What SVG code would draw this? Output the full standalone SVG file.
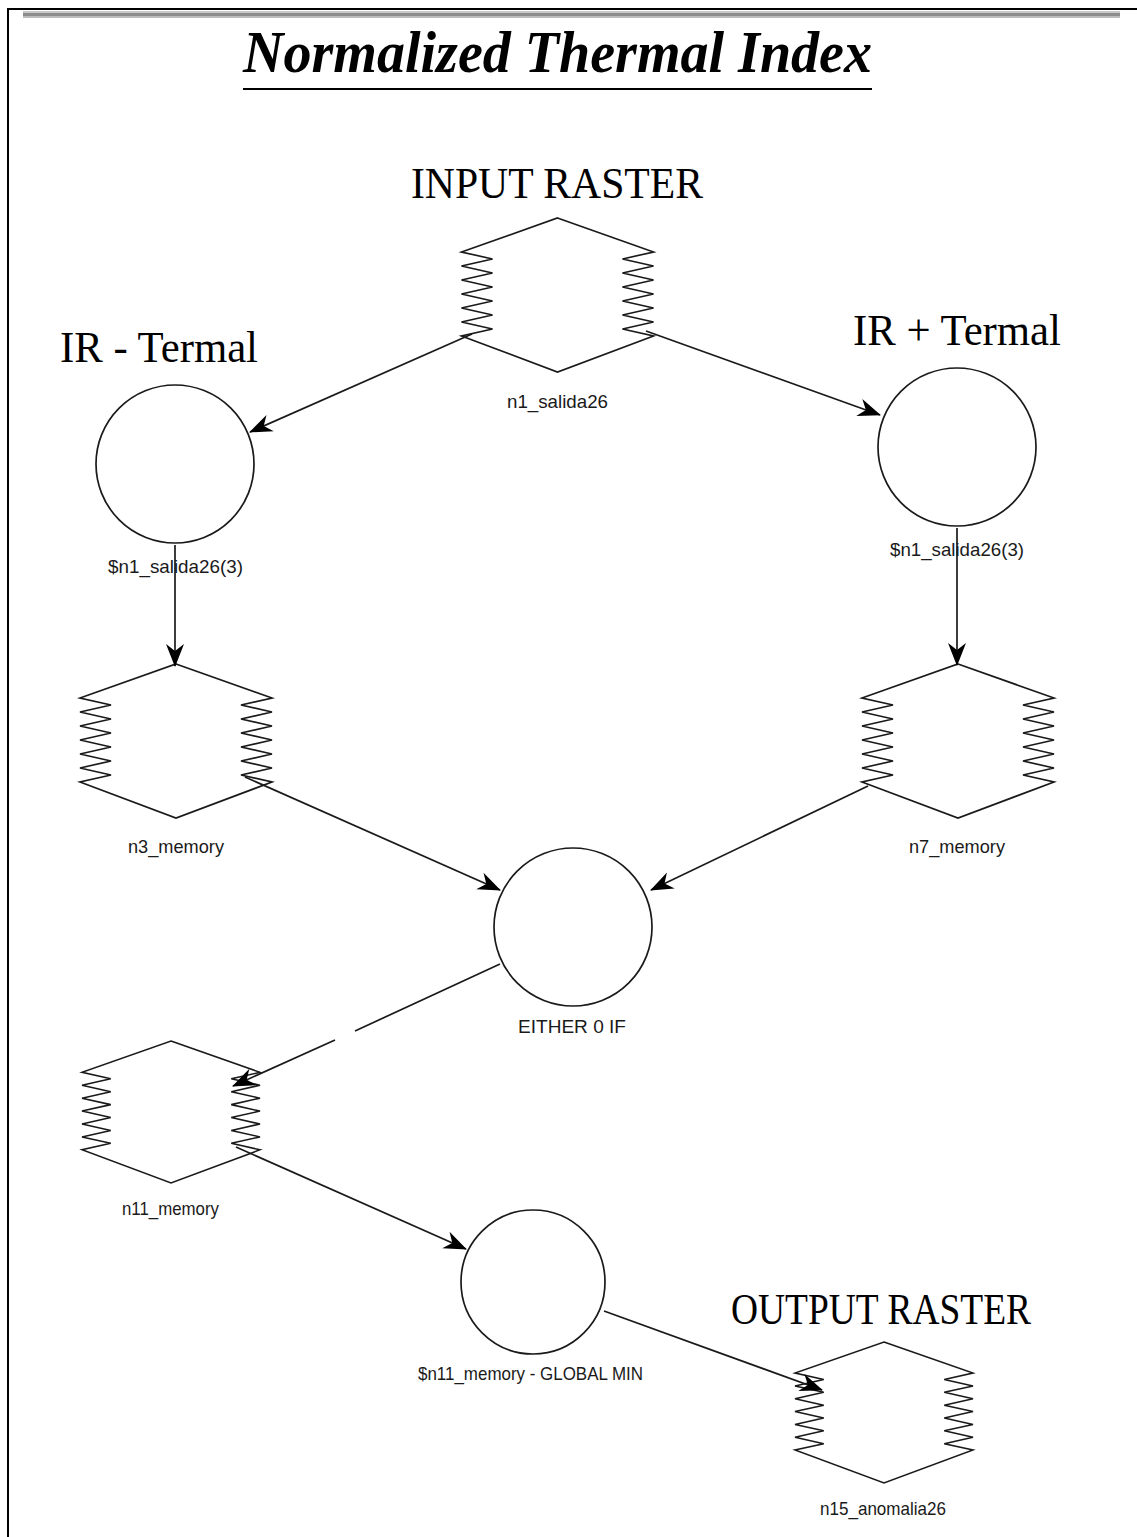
<svg xmlns="http://www.w3.org/2000/svg" xmlns:xlink="http://www.w3.org/1999/xlink" width="1137" height="1537" viewBox="0 0 1137 1537">
  <style>
    .frame { fill: #000; }
    .shape { fill: none; stroke: #1a1a1a; stroke-width: 1.7; vector-effect: non-scaling-stroke; }
    .edge { fill: none; stroke: #1a1a1a; stroke-width: 1.7; marker-end: url(#arrow); }
    .title { font-family: "Liberation Serif", "Times New Roman", serif; font-weight: bold; font-style: italic; font-size: 60px; fill: #000; }
    .head { font-family: "Liberation Serif", "Times New Roman", serif; font-size: 45px; fill: #000; }
    .lbl { font-family: "Liberation Sans", Arial, sans-serif; font-size: 19px; fill: #1a1a1a; }
  </style>
  <defs>
    <!-- raster/memory node: hexagon with spring-like zigzag sides -->
    <path id="hex" d="M0,-77 L96,-43 L65,-36 L96,-29 L65,-22 L96,-15 L65,-8 L96,-1 L65,6 L96,13 L65,20 L96,27 L65,34 L96,41 L0,77 L-96,41 L-65,34 L-96,27 L-65,20 L-96,13 L-65,6 L-96,-1 L-65,-8 L-96,-15 L-65,-22 L-96,-29 L-65,-36 L-96,-43 Z"/>
    <!-- notched solid arrowhead, tip on the path end -->
    <marker id="arrow" markerUnits="userSpaceOnUse" markerWidth="26" markerHeight="22" viewBox="-24 -11 26 22" refX="0" refY="0" orient="auto">
      <path d="M1,0 L-22,-9 L-15,0 L-22,9 Z" fill="#000"/>
    </marker>
  </defs>

  <rect width="1137" height="1537" fill="#fff"/>

  <!-- page frame -->
  <g id="frame">
    <rect class="frame" x="7" y="8" width="1130" height="2"/>
    <rect class="frame" x="7" y="8" width="2" height="1529"/>
    <rect x="23" y="11" width="1097" height="2" fill="#c8c8c8"/>
    <rect x="23" y="13" width="1097" height="3" fill="#8c8c8c"/>
    <rect x="23" y="16" width="1097" height="2" fill="#bcbcbc"/>
  </g>

  <!-- title -->
  <g id="title">
    <text class="title" x="243" y="72" textLength="629" lengthAdjust="spacingAndGlyphs">Normalized Thermal Index</text>
    <rect x="243" y="88" width="629" height="2" fill="#000"/>
  </g>

  <!-- section headings -->
  <g id="headings">
    <text class="head" x="411" y="198" textLength="292" lengthAdjust="spacingAndGlyphs">INPUT RASTER</text>
    <text class="head" x="60" y="362" textLength="198" lengthAdjust="spacingAndGlyphs">IR - Termal</text>
    <text class="head" x="853" y="345" textLength="208" lengthAdjust="spacingAndGlyphs">IR + Termal</text>
    <text class="head" x="731" y="1324" textLength="300" lengthAdjust="spacingAndGlyphs">OUTPUT RASTER</text>
  </g>

  <!-- nodes -->
  <g id="n1_salida26">
    <use xlink:href="#hex" class="shape" transform="translate(557.5,295)"/>
    <text class="lbl" x="507" y="408" textLength="101" lengthAdjust="spacingAndGlyphs">n1_salida26</text>
  </g>
  <g id="n2_ir_minus">
    <circle class="shape" cx="175" cy="464" r="79"/>
    <text class="lbl" x="108" y="573" textLength="135" lengthAdjust="spacingAndGlyphs">$n1_salida26(3)</text>
  </g>
  <g id="n6_ir_plus">
    <circle class="shape" cx="957" cy="447" r="79"/>
    <text class="lbl" x="890" y="556" textLength="134" lengthAdjust="spacingAndGlyphs">$n1_salida26(3)</text>
  </g>
  <g id="n3_memory">
    <use xlink:href="#hex" class="shape" transform="translate(176,741)"/>
    <text class="lbl" x="128" y="853" textLength="96" lengthAdjust="spacingAndGlyphs">n3_memory</text>
  </g>
  <g id="n7_memory">
    <use xlink:href="#hex" class="shape" transform="translate(958,741)"/>
    <text class="lbl" x="909" y="853" textLength="96" lengthAdjust="spacingAndGlyphs">n7_memory</text>
  </g>
  <g id="n10_either">
    <circle class="shape" cx="573" cy="927" r="79"/>
    <text class="lbl" x="518" y="1033" textLength="108" lengthAdjust="spacingAndGlyphs">EITHER 0 IF</text>
  </g>
  <g id="n11_memory">
    <use xlink:href="#hex" class="shape" transform="translate(171,1112) scale(0.927,0.922)"/>
    <text class="lbl" x="122" y="1215" textLength="97" lengthAdjust="spacingAndGlyphs">n11_memory</text>
  </g>
  <g id="n14_global_min">
    <circle class="shape" cx="533" cy="1282" r="72"/>
    <text class="lbl" x="418" y="1380" textLength="225" lengthAdjust="spacingAndGlyphs">$n11_memory - GLOBAL MIN</text>
  </g>
  <g id="n15_anomalia26">
    <use xlink:href="#hex" class="shape" transform="translate(884,1412.5) scale(0.927,0.916)"/>
    <text class="lbl" x="820" y="1515" textLength="126" lengthAdjust="spacingAndGlyphs">n15_anomalia26</text>
  </g>

  <!-- connectors -->
  <g id="connectors">
    <path class="edge" d="M472,334 L250,432"/>
    <path class="edge" d="M646,331 L880,415"/>
    <path class="edge" d="M175,545 L175,666"/>
    <path class="edge" d="M957,528 L957,665"/>
    <path class="edge" d="M245,777 L500,890"/>
    <path class="edge" d="M868,786 L651,890"/>
    <path class="edge" d="M500,964 L355,1031 M335,1040 L233,1086"/>
    <path class="edge" d="M236,1147 L466,1249"/>
    <path class="edge" d="M604,1311 L822,1390"/>
  </g>
</svg>
